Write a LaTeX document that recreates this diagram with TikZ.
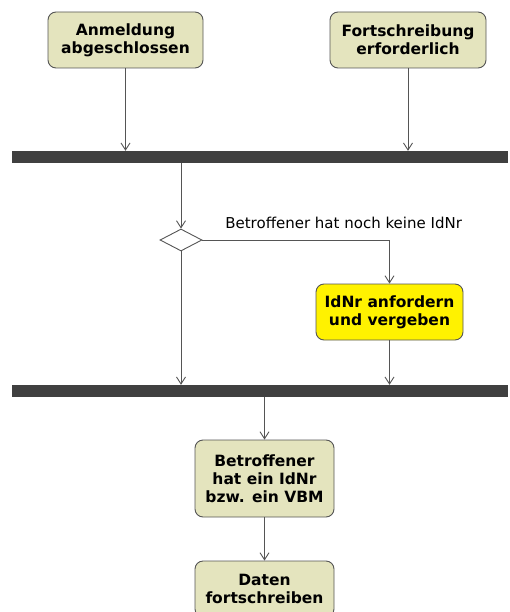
\documentclass[tikz,border=0pt]{standalone}
\usepackage{fontspec}
\setmainfont{DejaVu Sans}
\usetikzlibrary{positioning,shapes.geometric,arrows.meta}
\definecolor{actfill}{RGB}{228,228,190}
\definecolor{linegray}{RGB}{85,85,85}
\definecolor{bargray}{RGB}{64,64,64}

\begin{document}
\begin{tikzpicture}[
    x=1pt, y=-1pt,
    act/.style={draw=linegray, fill=actfill, rounded corners=8pt, align=center, inner sep=0pt, minimum height=56pt, line width=0.9pt, font=\bfseries\fontsize{15.5}{18}\selectfont},
    bar/.style={fill=bargray, inner sep=0pt, minimum width=496pt, minimum height=12pt},
    choice/.style={diamond, draw=linegray, fill=white, inner sep=0pt, minimum width=42pt, minimum height=22pt, line width=0.9pt},
    arrow/.style={-{Straight Barb[length=7pt,width=9pt]}, draw=linegray, line width=0.9pt}
  ]
    \useasboundingbox (0,0) rectangle (509,612);
    \clip (0,0) rectangle (509,612);
    \node[act, minimum width=155pt] (anm) at (125.5,40) {Anmeldung\\abgeschlossen};
    \node[act, minimum width=156pt] (fort) at (408,40) {Fortschreibung\\erforderlich};
    \node[bar] (fork) at (260,157) {};
    \node[choice] (dec) at (181,240) {};
    \node[act, fill=yellow, minimum width=147pt] (idnr) at (389.5,312) {IdNr anfordern\\und vergeben};
    \node[bar] (join) at (260,391) {};
    \node[act, minimum width=139pt, minimum height=77pt] (betr) at (264.5,478.5) {Betroffener\\hat ein IdNr\\bzw. ein VBM};
    \node[act, minimum width=139pt] (daten) at (264.5,589) {Daten\\fortschreiben};
    \draw[arrow] (anm) -- (anm |- fork.north);
    \draw[arrow] (fort) -- (fort |- fork.north);
    \draw[arrow] (fork.south -| dec) -- (dec);
    \draw[arrow] (dec.east) -| node[pos=0.06, anchor=base west, inner sep=0pt, yshift=11.3pt, font=\fontsize{15}{17}\selectfont] {Betroffener hat noch keine IdNr} (idnr);
    \draw[arrow] (idnr) -- (idnr |- join.north);
    \draw[arrow] (dec) -- (dec |- join.north);
    \draw[arrow] (join.south -| betr) -- (betr);
    \draw[arrow] (betr) -- (daten);
  \end{tikzpicture}
\end{document}
